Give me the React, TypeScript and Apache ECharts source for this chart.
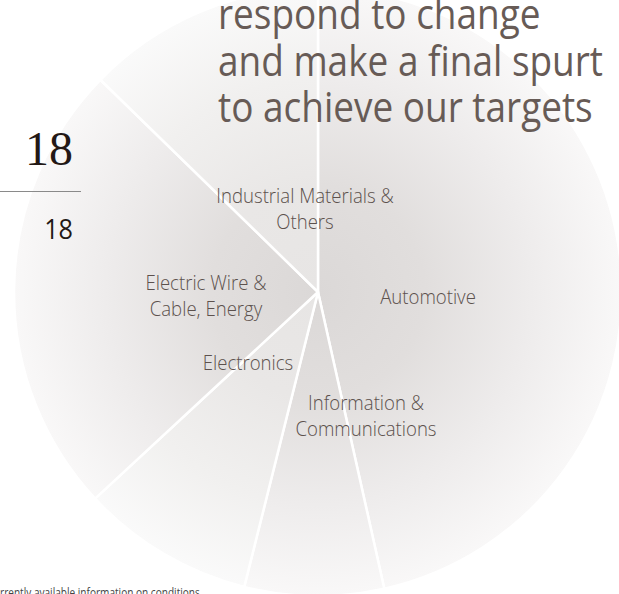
import React, { useEffect, useRef } from "react";
import * as echarts from "echarts";

// ---- data ----
const categories = [
  "Automotive",
  "Information &\nCommunications",
  "Electronics",
  "Electric Wire &\nCable, Energy",
  "Industrial Materials &\nOthers",
];
const shares = [46.5, 7.4, 9.2, 24.2, 12.7];
const titleLines = ["respond to change", "and make a final spurt", "to achieve our targets"];
const pageNumberTop = "18";
const pageNumberBottom = "18";
const footnote = "currently available information on conditions";

// ---- layout / styles ----
const W = 619;
const H = 594;
const CX = 318;
const CY = 292;
const R = 304;
const TEXT_COLOR = "#5c514d";
// label anchor: [centerX, baseline of first line]
const labelAnchors: [number, number][] = [
  [428, 304],
  [366, 410],
  [248, 370],
  [206, 290],
  [305, 203],
];
const shadeLight = [false, false, true, false, true];

const darkGrad = {
  type: "radial",
  x: CX,
  y: CY,
  r: R,
  global: true,
  colorStops: [
    { offset: 0, color: "#dbd8d7" },
    { offset: 0.35, color: "#e1dedd" },
    { offset: 0.7, color: "#eeecec" },
    { offset: 1, color: "#f9f8f8" },
  ],
};
const lightGrad = {
  type: "radial",
  x: CX,
  y: CY,
  r: R,
  global: true,
  colorStops: [
    { offset: 0, color: "#e7e5e4" },
    { offset: 0.35, color: "#e9e7e6" },
    { offset: 0.7, color: "#f1f0ef" },
    { offset: 1, color: "#fafafa" },
  ],
};

const LABEL_FS = 20;
const LABEL_SX = 0.93;
const LABEL_LH = 26;
const TITLE_FS = 42;
const TITLE_SX = 0.88;
const titleBaselines = [29.5, 76, 122.5];

function midY(baseline: number, fs: number, k = 0.388) {
  return baseline - k * fs;
}

export default function App() {
  const ref = useRef<HTMLDivElement>(null);

  useEffect(() => {
    document.body.style.margin = "0";
    if (!ref.current) return;
    const chart = echarts.init(ref.current, undefined, { renderer: "svg" });

    const graphics: any[] = [];

    // title
    titleLines.forEach((t, i) => {
      graphics.push({
        type: "text",
        x: 218,
        y: midY(titleBaselines[i], TITLE_FS),
        scaleX: TITLE_SX,
        z: 10,
        style: {
          text: t,
          fontFamily: "'Open Sans', sans-serif",
          fontSize: TITLE_FS,
          fill: "#675b56",
          textAlign: "left",
          textVerticalAlign: "middle",
        },
      });
    });

    // segment labels
    categories.forEach((c, i) => {
      const [ax, ay] = labelAnchors[i];
      c.split("\n").forEach((line, j) => {
        graphics.push({
          type: "text",
          x: ax,
          y: midY(ay + j * LABEL_LH, LABEL_FS),
          scaleX: LABEL_SX,
          z: 10,
          style: {
            text: line,
            fontFamily: "'Open Sans', sans-serif",
            fontWeight: 300,
            fontSize: LABEL_FS,
            fill: TEXT_COLOR,
            textAlign: "center",
            textVerticalAlign: "middle",
          },
        });
      });
    });

    // left page marker
    graphics.push({
      type: "text",
      x: 73,
      y: 165 - 16.2,
      z: 10,
      style: {
        text: pageNumberTop,
        fontFamily: "'Liberation Serif', 'Times New Roman', serif",
        fontSize: 48,
        fill: "#231815",
        textAlign: "right",
        textVerticalAlign: "middle",
      },
    });
    graphics.push({
      type: "line",
      z: 10,
      shape: { x1: 0, y1: 191.5, x2: 81, y2: 191.5 },
      style: { stroke: "#8a8a8a", lineWidth: 1 },
    });
    graphics.push({
      type: "text",
      x: 73,
      y: midY(239, 28),
      scaleX: 0.9,
      z: 10,
      style: {
        text: pageNumberBottom,
        fontFamily: "'Open Sans', sans-serif",
        fontSize: 28,
        fill: "#231815",
        textAlign: "right",
        textVerticalAlign: "middle",
      },
    });

    // footnote (clipped at left/bottom edge as in the reference)
    graphics.push({
      type: "text",
      x: -11,
      y: midY(597, 12),
      scaleX: 0.84,
      z: 10,
      style: {
        text: footnote,
        fontFamily: "'Open Sans', sans-serif",
        fontSize: 12,
        fill: "#444444",
        textAlign: "left",
        textVerticalAlign: "middle",
      },
    });

    chart.setOption({
      animation: false,
      backgroundColor: "#ffffff",
      series: [
        {
          type: "pie",
          center: [CX, CY],
          radius: R,
          startAngle: 90,
          clockwise: true,
          silent: true,
          label: { show: false },
          labelLine: { show: false },
          emphasis: { disabled: true },
          itemStyle: { borderColor: "#ffffff", borderWidth: 2.5 },
          data: categories.map((name, i) => ({
            name,
            value: shares[i],
            itemStyle: { color: shadeLight[i] ? lightGrad : darkGrad },
          })),
        },
      ],
      graphic: graphics,
    });

    return () => chart.dispose();
  }, []);

  return <div ref={ref} style={{ width: W, height: H }} />;
}
